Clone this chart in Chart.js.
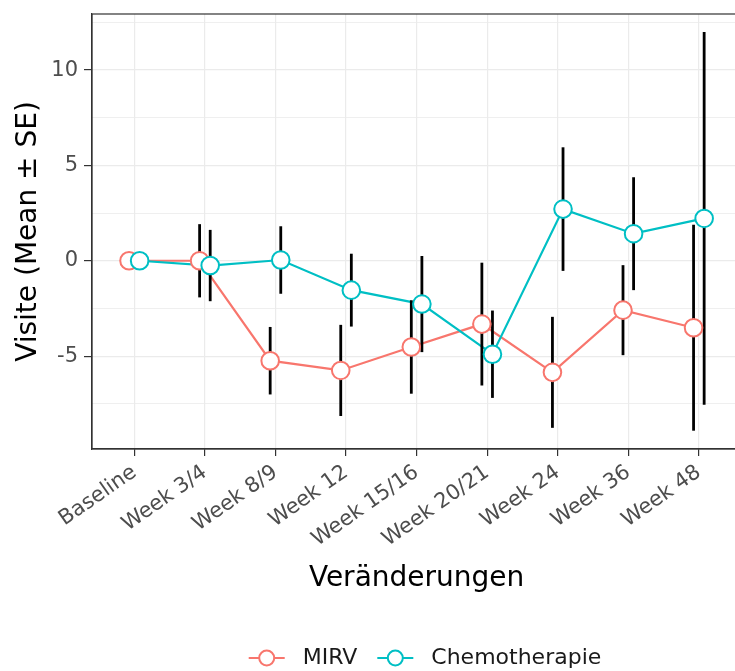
<!DOCTYPE html>
<html>
<head>
<meta charset="utf-8">
<title>Visite – Veränderungen</title>
<script src="https://cdn.jsdelivr.net/npm/chart.js@4.4.1/dist/chart.umd.min.js"></script>
<style>
  html, body { margin: 0; padding: 0; background: #fff; overflow: hidden; }
  /* panel runs past the right edge in the original, so the canvas is a bit wider than the window */
  #wrap { position: absolute; left: 0; top: 0; width: 752px; height: 671px; }
</style>
</head>
<body>
<div id="wrap"><canvas id="chart"></canvas></div>
<script>
// data
const visits = ['Baseline', 'Week 3/4', 'Week 8/9', 'Week 12', 'Week 15/16', 'Week 20/21', 'Week 24', 'Week 36', 'Week 48'];
const mirvMean  = [0, 0.0, -5.24, -5.75, -4.52, -3.32, -5.85, -2.59, -3.51];
const mirvSE    = [0, 1.92, 1.77, 2.39, 2.45, 3.22, 2.91, 2.36, 5.40];
const chemoMean = [0, -0.25, 0.04, -1.54, -2.27, -4.90, 2.71, 1.42, 2.22];
const chemoSE   = [0, 1.87, 1.77, 1.91, 2.52, 2.29, 3.24, 2.96, 9.77];
const yTicks = [-7.5, -5, -2.5, 0, 2.5, 5, 7.5, 10, 12.5];

const MIRV_COL = '#F8766D';
const CHEMO_COL = '#00BFC4';
const DODGE = 0.075;
const FONT = "'DejaVu Sans', sans-serif";

const pts = (means, shift) => means.map((m, i) => ({ x: i + shift, y: m }));

// error bars go between the lines and the points
const errorBars = {
  id: 'errorBars',
  beforeDatasetDraw(chart, args) {
    const ds = chart.data.datasets[args.index];
    if (ds.label !== 'MIRV' || ds.showLine) return;
    const { ctx, scales: { x, y } } = chart;
    ctx.save();
    ctx.strokeStyle = '#000';
    ctx.lineWidth = 2.8;
    ctx.lineCap = 'butt';
    [[mirvMean, mirvSE, -DODGE], [chemoMean, chemoSE, DODGE]].forEach(([m, se, shift]) => {
      m.forEach((v, i) => {
        if (!se[i]) return;
        const px = x.getPixelForValue(i + shift);
        ctx.beginPath();
        ctx.moveTo(px, y.getPixelForValue(v + se[i]));
        ctx.lineTo(px, y.getPixelForValue(v - se[i]));
        ctx.stroke();
      });
    });
    ctx.restore();
  }
};

// panel border on top of everything
const panelBorder = {
  id: 'panelBorder',
  afterDatasetsDraw(chart) {
    const { ctx, chartArea: a } = chart;
    ctx.save();
    ctx.strokeStyle = '#333333';
    ctx.lineWidth = 1.2;
    ctx.strokeRect(a.left, a.top, a.right - a.left, a.bottom - a.top);
    ctx.restore();
  }
};

// ggplot-style legend: line + open circle, then label
const ggLegend = {
  id: 'ggLegend',
  afterDraw(chart) {
    const ctx = chart.ctx;
    const items = [{ label: 'MIRV', color: MIRV_COL }, { label: 'Chemotherapie', color: CHEMO_COL }];
    const cy = 658, glyphW = 36, gap = 18, itemGap = 20;
    ctx.save();
    ctx.font = '22px ' + FONT;
    ctx.textBaseline = 'middle';
    let total = 0;
    items.forEach((it, i) => { it.w = ctx.measureText(it.label).width; total += glyphW + gap + it.w + (i ? itemGap : 0); });
    let xPos = 425 - total / 2;
    items.forEach((it, i) => {
      if (i) xPos += itemGap;
      ctx.strokeStyle = it.color;
      ctx.lineWidth = 2;
      ctx.beginPath();
      ctx.moveTo(xPos, cy);
      ctx.lineTo(xPos + glyphW, cy);
      ctx.stroke();
      ctx.beginPath();
      ctx.arc(xPos + glyphW / 2, cy, 7.5, 0, Math.PI * 2);
      ctx.fillStyle = '#fff';
      ctx.fill();
      ctx.stroke();
      xPos += glyphW + gap;
      ctx.fillStyle = '#1a1a1a';
      ctx.fillText(it.label, xPos, cy);
      xPos += it.w;
    });
    ctx.restore();
  }
};

const lineDs = (label, data, color, order) => ({
  label, data, order,
  showLine: true,
  borderColor: color,
  borderWidth: 2.2,
  pointRadius: 0,
  pointHoverRadius: 0
});
const pointDs = (label, data, color, order) => ({
  label, data, order,
  showLine: false,
  pointRadius: 8.8,
  pointHoverRadius: 8.8,
  pointBorderWidth: 2,
  pointBackgroundColor: '#ffffff',
  pointBorderColor: color
});

new Chart(document.getElementById('chart'), {
  type: 'scatter',
  data: {
    datasets: [
      pointDs('Chemotherapie', pts(chemoMean, DODGE), CHEMO_COL, 0),
      pointDs('MIRV', pts(mirvMean, -DODGE), MIRV_COL, 1),
      lineDs('Chemotherapie', pts(chemoMean, DODGE), CHEMO_COL, 2),
      lineDs('MIRV', pts(mirvMean, -DODGE), MIRV_COL, 3)
    ]
  },
  options: {
    responsive: true,
    maintainAspectRatio: false,
    animation: false,
    layout: { padding: { top: 14, right: 8.5, left: 0, bottom: 0 } },
    plugins: {
      legend: { display: false },
      tooltip: { enabled: false }
    },
    scales: {
      x: {
        type: 'linear',
        min: -0.6,
        max: 8.6,
        afterBuildTicks: s => { s.ticks = visits.map((v, i) => ({ value: i })); },
        afterFit: s => { s.height = 222; s.paddingLeft = 0; s.paddingRight = 0; },
        ticks: {
          callback: v => visits[v],
          autoSkip: false,
          minRotation: 35,
          maxRotation: 35,
          padding: 4,
          color: '#4d4d4d',
          font: { family: FONT, size: 21 }
        },
        grid: { color: '#ebebeb', lineWidth: 1.2, tickColor: '#333333', tickLength: 7, tickWidth: 1.2 },
        border: { color: '#333333', width: 1.2 },
        title: {
          display: true,
          text: 'Veränderungen',
          color: '#000',
          font: { family: FONT, size: 28 },
          padding: { top: 0, bottom: 75 }
        }
      },
      y: {
        min: -9.87,
        max: 12.94,
        afterBuildTicks: s => { s.ticks = yTicks.map(v => ({ value: v })); },
        afterFit: s => { s.width = 92; s.paddingTop = 0; s.paddingBottom = 0; },
        ticks: {
          callback: v => (v % 5 === 0 ? String(v) : ''),
          padding: 6,
          color: '#4d4d4d',
          font: { family: FONT, size: 21 }
        },
        grid: {
          color: '#ebebeb',
          lineWidth: c => (c.tick && c.tick.value % 5 === 0 ? 1.2 : 0.8),
          tickColor: c => (c.tick && c.tick.value % 5 === 0 ? '#333333' : 'rgba(0,0,0,0)'),
          tickLength: 8,
          tickWidth: 1.2
        },
        border: { color: '#333333', width: 1.2 },
        title: {
          display: true,
          text: 'Visite (Mean ± SE)',
          color: '#000',
          font: { family: FONT, size: 28 },
          padding: { top: 12, bottom: 0 }
        }
      }
    }
  },
  plugins: [errorBars, panelBorder, ggLegend]
});
</script>
</body>
</html>
